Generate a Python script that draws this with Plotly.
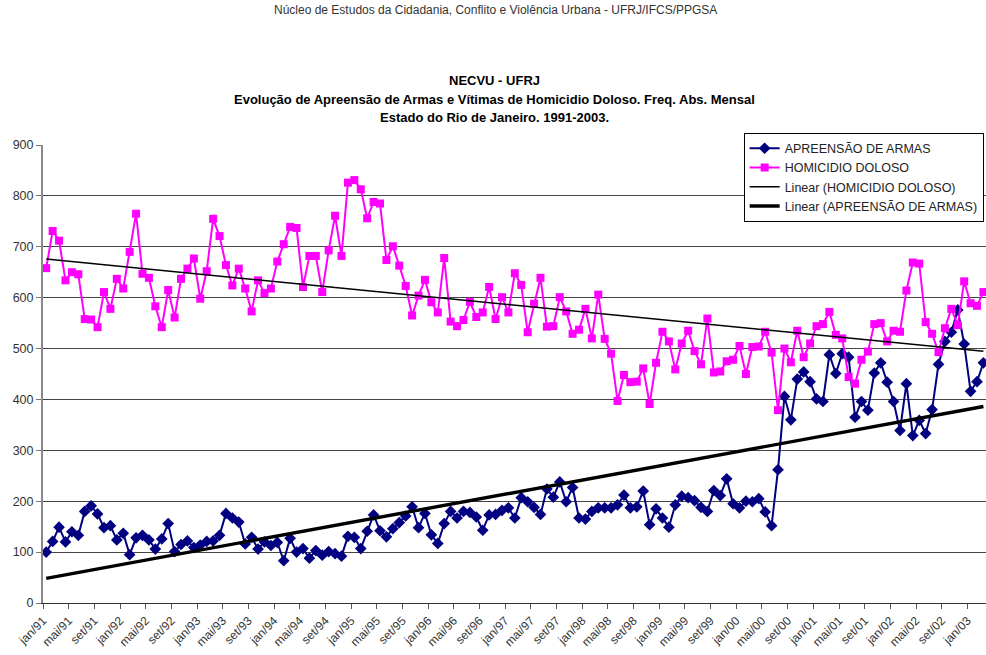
import numpy as np
import plotly.graph_objects as go

# ---- data, monthly jan/91 .. mar/03 ----
month_abbr = ["jan", "fev", "mar", "abr", "mai", "jun", "jul", "ago", "set", "out", "nov", "dez"]
years = list(range(1991, 2004))
months = [f"{m}/{str(y)[2:]}" for y in years for m in month_abbr][:147]

homicidio = [
    658, 731, 712, 634, 650, 646, 558, 557, 542, 611, 578, 637,
    618, 690, 765, 647, 639, 583, 542, 615, 561, 637, 657, 677,
    598, 652, 755, 721, 664, 624, 657, 618, 573, 634, 609, 618,
    671, 705, 739, 737, 621, 682, 682, 611, 693, 761, 682, 826,
    831, 813, 756, 788, 785, 674, 701, 663, 623, 565, 604, 635,
    591, 571, 678, 553, 544, 556, 592, 562, 571, 621, 558, 601,
    571, 648, 625, 532, 588, 639, 543, 544, 601, 573, 529, 537,
    578, 520, 606, 519, 490, 397, 448, 434, 435, 461, 391, 472,
    533, 514, 459, 510, 535, 495, 469, 559, 453, 455, 475, 478,
    505, 450, 503, 504, 533, 492, 379, 500, 473, 535, 483, 510,
    544, 548, 572, 527, 520, 444, 431, 478, 494, 548, 550, 514,
    535, 533, 614, 669, 667, 552, 529, 493, 540, 578, 546, 632,
    589, 584, 611,
]

apreensao = [
    100, 121, 149, 120, 140, 133, 180, 191, 175, 148, 152, 124,
    137, 95, 128, 133, 124, 106, 126, 156, 101, 115, 122, 109,
    114, 121, 122, 133, 176, 167, 159, 116, 129, 106, 120, 113,
    119, 83, 127, 100, 107, 88, 103, 94, 101, 97, 92, 131,
    129, 107, 141, 173, 142, 130, 146, 158, 171, 189, 148, 176,
    134, 117, 156, 180, 167, 180, 178, 169, 143, 173, 174, 182,
    187, 167, 207, 199, 188, 174, 224, 208, 238, 199, 227, 167,
    165, 180, 187, 187, 187, 193, 212, 187, 189, 220, 154, 185,
    167, 149, 193, 210, 207, 201, 188, 180, 221, 211, 244, 195,
    187, 200, 199, 205, 179, 152, 262, 406, 360, 440, 454, 435,
    401, 396, 488, 451, 490, 483, 365, 396, 379, 452, 472, 434,
    396, 339, 431, 329, 359, 333, 380, 469, 514, 532, 576, 509,
    416, 435, 472,
]

y_ticks = list(range(0, 1000, 100))
label_step = 4

# ---- derived ----
idx = np.arange(len(months))
h_fit = np.polyval(np.polyfit(idx, homicidio, 1), idx)
a_fit = np.polyval(np.polyfit(idx, apreensao, 1), idx)

tick_pos = [i - 0.5 for i in range(0, len(months), label_step)]
tick_txt = [months[i] for i in range(0, len(months), label_step)]

FONT = "Arial, Liberation Sans, sans-serif"

fig = go.Figure()
fig.add_trace(go.Scatter(
    x=idx, y=apreensao, mode="lines+markers", name="APREENSÃO DE ARMAS",
    line=dict(color="#000080", width=2),
    marker=dict(symbol="diamond", size=9, color="#000080"),
))
fig.add_trace(go.Scatter(
    x=idx, y=homicidio, mode="lines+markers", name="HOMICIDIO DOLOSO",
    line=dict(color="#FF00FF", width=2),
    marker=dict(symbol="square", size=8, color="#FF00FF"),
))
fig.add_trace(go.Scatter(
    x=idx, y=h_fit, mode="lines", name="Linear (HOMICIDIO DOLOSO)",
    line=dict(color="black", width=1.5),
))
fig.add_trace(go.Scatter(
    x=idx, y=a_fit, mode="lines", name="Linear (APREENSÃO DE ARMAS)",
    line=dict(color="black", width=3.4),
))
# empty trace carrying the gridline axis
fig.add_trace(go.Scatter(x=[], y=[], yaxis="y2", showlegend=False, hoverinfo="skip"))

fig.update_layout(
    width=986, height=655,
    margin=dict(l=43, r=0, t=145, b=52),
    paper_bgcolor="white", plot_bgcolor="white",
    font=dict(family=FONT, size=12, color="#222"),
    showlegend=True,
    legend=dict(
        x=0.743, y=1.027, xanchor="left", yanchor="top",
        bgcolor="white", bordercolor="black", borderwidth=1,
        font=dict(family=FONT, size=12.5, color="#222"),
        itemwidth=30, tracegroupgap=0,
    ),
    xaxis=dict(
        range=[-0.5, len(months) - 0.6],
        tickmode="array", tickvals=tick_pos, ticktext=tick_txt,
        tickangle=-45, ticks="outside", ticklen=5, tickcolor="#555",
        tickfont=dict(family=FONT, size=12, color="#333"),
        showgrid=False, zeroline=False,
        showline=True, linecolor="#333", linewidth=1,
        automargin=False,
    ),
    yaxis=dict(
        range=[0, 900], tickmode="array", tickvals=y_ticks,
        ticks="outside", ticklen=5, tickcolor="#777",
        tickfont=dict(family=FONT, size=12.5, color="#333"),
        showgrid=False, zeroline=False,
        showline=True, linecolor="#888", linewidth=2,
        automargin=False,
    ),
    yaxis2=dict(
        overlaying="y", side="left", range=[0, 899.99],
        tickmode="array", tickvals=y_ticks[:-1],
        showgrid=True, gridcolor="#444", gridwidth=1,
        showticklabels=False, ticks="", zeroline=False, showline=False,
    ),
    annotations=[
        dict(text="Núcleo de Estudos da Cidadania, Conflito e Violência Urbana - UFRJ/IFCS/PPGSA",
             xref="paper", yref="paper", x=0.4795, y=1.2948, showarrow=False,
             xanchor="center", yanchor="middle", font=dict(family=FONT, size=12, color="#333")),
        dict(text="<b>NECVU - UFRJ</b>",
             xref="paper", yref="paper", x=0.4793, y=1.1419, showarrow=False,
             xanchor="center", yanchor="middle", font=dict(family=FONT, size=13, color="black")),
        dict(text="<b>Evolução de Apreensão de Armas e Vítimas de Homicidio Doloso. Freq. Abs. Mensal</b>",
             xref="paper", yref="paper", x=0.4793, y=1.1004, showarrow=False,
             xanchor="center", yanchor="middle", font=dict(family=FONT, size=13, color="black")),
        dict(text="<b>Estado do Rio de Janeiro. 1991-2003.</b>",
             xref="paper", yref="paper", x=0.4793, y=1.059, showarrow=False,
             xanchor="center", yanchor="middle", font=dict(family=FONT, size=13, color="black")),
    ],
)

fig.write_html(
    "out.html",
    config={"displayModeBar": False},
    post_script="document.body.style.margin='0';document.body.style.overflow='hidden';",
)
